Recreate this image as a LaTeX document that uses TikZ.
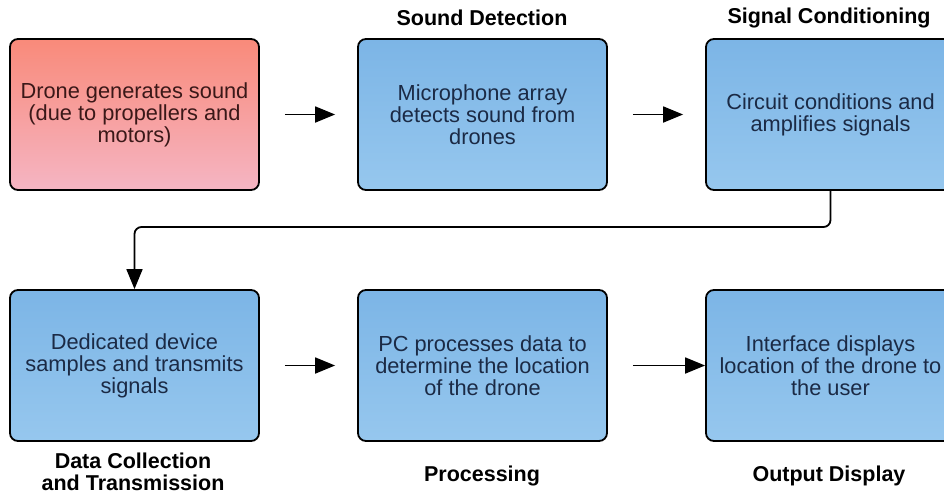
\documentclass[tikz,border=0pt]{standalone}
\usepackage{fontspec}
\setmainfont{Liberation Sans}
\usetikzlibrary{arrows.meta}
\definecolor{bluetop}{HTML}{7CB5E6}
\definecolor{bluebot}{HTML}{96C7EE}
\definecolor{redtop}{HTML}{F98A7A}
\definecolor{redbot}{HTML}{F5B5C3}
\definecolor{bluetext}{HTML}{1B2A45}
\definecolor{redtext}{HTML}{3A1818}
\tikzset{
  box/.style={draw=black, line width=1.8pt, rounded corners=8pt,
    minimum width=249pt, minimum height=151pt, align=center,
    font=\fontsize{21.8}{22}\selectfont, inner sep=0pt},
  bluebox/.style={box, top color=bluetop, bottom color=bluebot, text=bluetext},
  redbox/.style={box, top color=redtop, bottom color=redbot, text=redtext},
  steplabel/.style={font=\fontsize{21.5}{22}\selectfont\bfseries, align=center, text=black},
  flow/.style={line width=1.8pt, -{Triangle[length=20pt,width=16pt]}},
}
\begin{document}
\begin{tikzpicture}[x=1pt,y=-1pt]
\useasboundingbox (0,0) rectangle (944,496);
\clip (0,0) rectangle (944,496);
\fill[white] (0,0) rectangle (944,496);
\node[redbox]  (b1) at (134.5,114.5) {Drone generates sound\\(due to propellers and\\motors)};
\node[bluebox] (b2) at (482.5,114.5) {Microphone array\\detects sound from\\drones};
\node[bluebox] (b3) at (830.5,114.5) {Circuit conditions and\\amplifies signals};
\node[bluebox] (b4) at (134.5,365.5) {Dedicated device\\samples and transmits\\signals};
\node[bluebox] (b5) at (482.5,365.5) {PC processes data to\\determine the location\\of the drone};
\node[bluebox] (b6) at (830.5,365.5) {Interface displays\\location of the drone to\\the user};
\node[steplabel] (l2) at (482,18) {Sound Detection};
\node[steplabel] (l3) at (829,18) {Signal Conditioning};
\node[steplabel] (l4) at (133,472) {Data Collection\\and Transmission};
\node[steplabel] (l5) at (482,476) {Processing};
\node[steplabel] (l6) at (829,476) {Output Display};
\coordinate (turn) at (482,227);
\draw[flow, shorten <=25pt, shorten >=22pt] (b1) -- (b2);
\draw[flow, shorten <=25pt, shorten >=22pt] (b2) -- (b3);
\draw[flow, shorten <=25pt, shorten >=22pt] (b4) -- (b5);
\draw[flow, shorten <=25pt] (b5) -- (b6);
\draw[flow, rounded corners=7pt] (b3.south) |- (turn) -| (b4.north);
\end{tikzpicture}
\end{document}
